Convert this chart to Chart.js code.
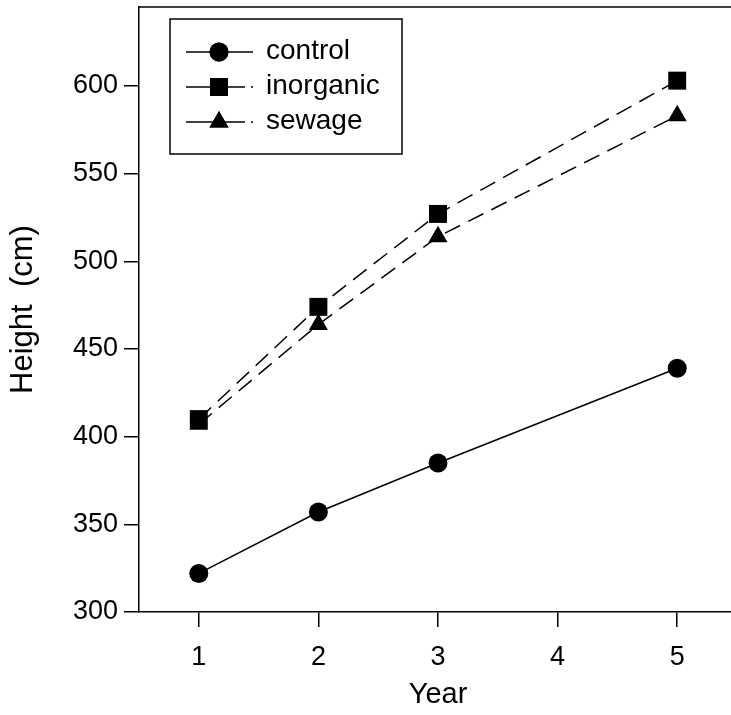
<!DOCTYPE html>
<html>
<head>
<meta charset="utf-8">
<script src="https://cdn.jsdelivr.net/npm/chart.js@4.4.0/dist/chart.umd.min.js"></script>
<style>
html, body { margin: 0; padding: 0; background: #fff; overflow: hidden; }
canvas { display: block; }
</style>
</head>
<body>
<canvas id="chart" width="737" height="715"></canvas>
<script>
// values
var years = [1, 2, 3, 5];
var control = [322, 357, 385, 439];
var inorganic = [410, 474, 527, 603];
var sewage = [407, 464, 514, 583];
var seriesNames = ["control", "inorganic", "sewage"];
var xTicks = [1, 2, 3, 4, 5];
var yTicks = [300, 350, 400, 450, 500, 550, 600];

var FONT = '"Liberation Sans", Arial, sans-serif';

function pts(vals) {
    return years.map(function (x, i) { return { x: x, y: vals[i] }; });
}

// legend drawn as line + marker + label, like the original plot
var boxLegend = {
    id: "boxLegend",
    afterDraw: function (chart) {
        var ctx = chart.ctx, a = chart.chartArea;
        ctx.save();
        // top frame line
        ctx.strokeStyle = "#000";
        ctx.lineWidth = 1.5;
        ctx.beginPath();
        ctx.moveTo(a.left, a.top);
        ctx.lineTo(a.right, a.top);
        ctx.stroke();

        // box
        ctx.strokeRect(170, 19, 232, 135);

        var rows = [52, 87, 122];
        chart.data.datasets.forEach(function (ds, i) {
            var y = rows[i];
            ctx.save();
            ctx.strokeStyle = "#000";
            ctx.lineWidth = ds.borderWidth;
            ctx.beginPath();
            ctx.moveTo(186, y);
            ctx.lineTo(219, y);
            ctx.stroke();
            if (ds.borderDash) ctx.setLineDash([26, 6, 2, 40]);
            ctx.beginPath();
            ctx.moveTo(219, y);
            ctx.lineTo(253, y);
            ctx.stroke();
            ctx.restore();
            ctx.fillStyle = "#000";
            Chart.helpers.drawPoint(ctx, {
                pointStyle: ds.pointStyle,
                radius: ds.pointRadius,
                borderWidth: 0
            }, 219, y);
            ctx.fill();
            ctx.font = "28px " + FONT;
            ctx.textBaseline = "middle";
            ctx.textAlign = "left";
            ctx.fillText(ds.label, 266, y - 1);
        });
        ctx.restore();
    }
};

new Chart(document.getElementById("chart"), {
    type: "line",
    data: {
        datasets: [{
            label: seriesNames[0],
            data: pts(control),
            borderColor: "#000",
            backgroundColor: "#000",
            borderWidth: 1.5,
            pointStyle: "circle",
            pointRadius: 9.5,
            pointBorderWidth: 0
        }, {
            label: seriesNames[1],
            data: pts(inorganic),
            borderColor: "#000",
            backgroundColor: "#000",
            borderWidth: 1.5,
            borderDash: [17, 9],
            pointStyle: "rect",
            pointRadius: 12.7,
            pointBorderWidth: 0
        }, {
            label: seriesNames[2],
            data: pts(sewage),
            borderColor: "#000",
            backgroundColor: "#000",
            borderWidth: 1.5,
            borderDash: [17, 9],
            pointStyle: "triangle",
            pointRadius: 11,
            pointBorderWidth: 0
        }]
    },
    options: {
        responsive: false,
        animation: false,
        layout: { autoPadding: false, padding: { top: 7, right: 0, left: 0, bottom: 0 } },
        plugins: {
            legend: { display: false },
            tooltip: { enabled: false }
        },
        scales: {
            x: {
                type: "linear",
                min: 0.5,
                max: 5.5,
                afterBuildTicks: function (s) {
                    s.ticks = xTicks.map(function (v) { return { value: v }; });
                },
                afterFit: function (s) {
                    s.height = 103;
                    s.paddingLeft = 0; s.paddingRight = 0;
                },
                ticks: {
                    color: "#000",
                    padding: 14,
                    font: { family: FONT, size: 27 }
                },
                grid: {
                    drawOnChartArea: false,
                    tickLength: 15,
                    color: "#000",
                    lineWidth: 1.5
                },
                border: { color: "#000", width: 1.5 },
                title: {
                    display: true,
                    text: "Year",
                    color: "#000",
                    font: { family: FONT, size: 29 },
                    padding: { top: 0, bottom: 3 }
                }
            },
            y: {
                min: 300,
                max: 645,
                afterBuildTicks: function (s) {
                    s.ticks = yTicks.map(function (v) { return { value: v }; });
                },
                afterFit: function (s) {
                    s.width = 139;
                    s.paddingTop = 0; s.paddingBottom = 0;
                },
                ticks: {
                    color: "#000",
                    padding: 6,
                    font: { family: FONT, size: 27 }
                },
                grid: {
                    drawOnChartArea: false,
                    tickLength: 15,
                    color: "#000",
                    lineWidth: 1.5
                },
                border: { color: "#000", width: 1.5 },
                title: {
                    display: true,
                    text: "Height  (cm)",
                    color: "#000",
                    font: { family: FONT, size: 31 },
                    padding: { top: 5, bottom: 0 }
                }
            }
        }
    },
    plugins: [boxLegend]
});
</script>
</body>
</html>
